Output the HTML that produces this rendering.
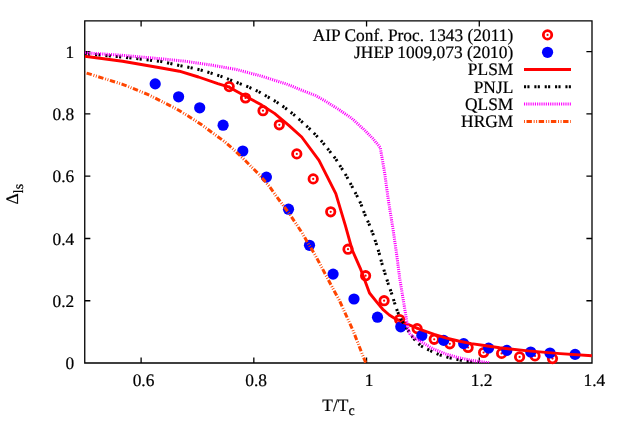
<!DOCTYPE html>
<html><head><meta charset="utf-8"><title>plot</title>
<style>
html,body{margin:0;padding:0;background:#fff;}
svg{display:block;will-change:transform;}
text{font-family:"Liberation Serif",serif;font-size:17.4px;fill:#000;stroke:#000;stroke-width:0.2px;text-rendering:geometricPrecision;}
.sub{font-size:13.92px;}
</style></head><body>
<svg width="623" height="436" viewBox="0 0 623 436">
<rect x="0" y="0" width="623" height="436" fill="#fff"/>

<defs><clipPath id="c"><rect x="84.75" y="20.8" width="507.25" height="342.2"/></clipPath></defs>
<path d="M84.75,20.8H592.0V363.0H84.75ZM141.11,363.0v-5.6M141.11,20.8v5.6M253.83,363.0v-5.6M253.83,20.8v5.6M366.56,363.0v-5.6M366.56,20.8v5.6M479.28,363.0v-5.6M479.28,20.8v5.6M84.75,300.74h5.6M592.0,300.74h-5.6M84.75,238.48h5.6M592.0,238.48h-5.6M84.75,176.22h5.6M592.0,176.22h-5.6M84.75,113.96h5.6M592.0,113.96h-5.6M84.75,51.70h5.6M592.0,51.70h-5.6" fill="none" stroke="#000" stroke-width="1.3"/>
<text transform="translate(143.5,386.2) scale(1,1.012)" text-anchor="middle">0.6</text>
<text transform="translate(256.2,386.2) scale(1,1.012)" text-anchor="middle">0.8</text>
<text transform="translate(369.0,386.2) scale(1,1.012)" text-anchor="middle">1</text>
<text transform="translate(481.7,386.2) scale(1,1.012)" text-anchor="middle">1.2</text>
<text transform="translate(594.4,386.2) scale(1,1.012)" text-anchor="middle">1.4</text>
<text transform="translate(74.3,369.0) scale(1,1.012)" text-anchor="end">0</text>
<text transform="translate(74.3,306.7) scale(1,1.012)" text-anchor="end">0.2</text>
<text transform="translate(74.3,244.5) scale(1,1.012)" text-anchor="end">0.4</text>
<text transform="translate(74.3,182.2) scale(1,1.012)" text-anchor="end">0.6</text>
<text transform="translate(74.3,120.0) scale(1,1.012)" text-anchor="end">0.8</text>
<text transform="translate(74.3,57.7) scale(1,1.012)" text-anchor="end">1</text>
<text transform="translate(322.3,410.8) scale(1,1.012)" text-anchor="start">T/T<tspan class="sub" dy="4.6">c</tspan></text>
<text transform="translate(18.1,204.4) rotate(-90) scale(1,1.012)" text-anchor="start">Δ<tspan class="sub" dy="4.9">ls</tspan></text>
<circle cx="229.2" cy="86.6" r="4.2" fill="none" stroke="#f00" stroke-width="2.8"/><circle cx="229.2" cy="86.6" r="1.1" fill="#f00"/>
<circle cx="245.5" cy="98" r="4.2" fill="none" stroke="#f00" stroke-width="2.8"/><circle cx="245.5" cy="98" r="1.1" fill="#f00"/>
<circle cx="263" cy="110.7" r="4.2" fill="none" stroke="#f00" stroke-width="2.8"/><circle cx="263" cy="110.7" r="1.1" fill="#f00"/>
<circle cx="279.3" cy="124.8" r="4.2" fill="none" stroke="#f00" stroke-width="2.8"/><circle cx="279.3" cy="124.8" r="1.1" fill="#f00"/>
<circle cx="296.8" cy="153.9" r="4.2" fill="none" stroke="#f00" stroke-width="2.8"/><circle cx="296.8" cy="153.9" r="1.1" fill="#f00"/>
<circle cx="313.2" cy="178.9" r="4.2" fill="none" stroke="#f00" stroke-width="2.8"/><circle cx="313.2" cy="178.9" r="1.1" fill="#f00"/>
<circle cx="330.7" cy="211.8" r="4.2" fill="none" stroke="#f00" stroke-width="2.8"/><circle cx="330.7" cy="211.8" r="1.1" fill="#f00"/>
<circle cx="348" cy="249.2" r="4.2" fill="none" stroke="#f00" stroke-width="2.8"/><circle cx="348" cy="249.2" r="1.1" fill="#f00"/>
<circle cx="365.6" cy="275.7" r="4.2" fill="none" stroke="#f00" stroke-width="2.8"/><circle cx="365.6" cy="275.7" r="1.1" fill="#f00"/>
<circle cx="384.1" cy="300.7" r="4.2" fill="none" stroke="#f00" stroke-width="2.8"/><circle cx="384.1" cy="300.7" r="1.1" fill="#f00"/>
<circle cx="399.6" cy="319.5" r="4.2" fill="none" stroke="#f00" stroke-width="2.8"/><circle cx="399.6" cy="319.5" r="1.1" fill="#f00"/>
<circle cx="417.1" cy="328.6" r="4.2" fill="none" stroke="#f00" stroke-width="2.8"/><circle cx="417.1" cy="328.6" r="1.1" fill="#f00"/>
<circle cx="434.2" cy="339.3" r="4.2" fill="none" stroke="#f00" stroke-width="2.8"/><circle cx="434.2" cy="339.3" r="1.1" fill="#f00"/>
<circle cx="449.8" cy="343.8" r="4.2" fill="none" stroke="#f00" stroke-width="2.8"/><circle cx="449.8" cy="343.8" r="1.1" fill="#f00"/>
<circle cx="468.1" cy="347.5" r="4.2" fill="none" stroke="#f00" stroke-width="2.8"/><circle cx="468.1" cy="347.5" r="1.1" fill="#f00"/>
<circle cx="483.6" cy="352.5" r="4.2" fill="none" stroke="#f00" stroke-width="2.8"/><circle cx="483.6" cy="352.5" r="1.1" fill="#f00"/>
<circle cx="501.6" cy="353.4" r="4.2" fill="none" stroke="#f00" stroke-width="2.8"/><circle cx="501.6" cy="353.4" r="1.1" fill="#f00"/>
<circle cx="519.6" cy="356.9" r="4.2" fill="none" stroke="#f00" stroke-width="2.8"/><circle cx="519.6" cy="356.9" r="1.1" fill="#f00"/>
<circle cx="535" cy="355.9" r="4.2" fill="none" stroke="#f00" stroke-width="2.8"/><circle cx="535" cy="355.9" r="1.1" fill="#f00"/>
<circle cx="552.5" cy="358.6" r="4.2" fill="none" stroke="#f00" stroke-width="2.8"/><circle cx="552.5" cy="358.6" r="1.1" fill="#f00"/>
<circle cx="155.2" cy="83.9" r="5.6" fill="#00f"/>
<circle cx="178.6" cy="96.8" r="5.6" fill="#00f"/>
<circle cx="199.7" cy="107.8" r="5.6" fill="#00f"/>
<circle cx="223.1" cy="125.2" r="5.6" fill="#00f"/>
<circle cx="242.8" cy="151" r="5.6" fill="#00f"/>
<circle cx="266.4" cy="177.1" r="5.6" fill="#00f"/>
<circle cx="288.5" cy="209.2" r="5.6" fill="#00f"/>
<circle cx="309.5" cy="245.3" r="5.6" fill="#00f"/>
<circle cx="333.1" cy="274.1" r="5.6" fill="#00f"/>
<circle cx="354" cy="299" r="5.6" fill="#00f"/>
<circle cx="377.5" cy="317.2" r="5.6" fill="#00f"/>
<circle cx="400.8" cy="326.8" r="5.6" fill="#00f"/>
<circle cx="421.8" cy="335.5" r="5.6" fill="#00f"/>
<circle cx="443.7" cy="340.4" r="5.6" fill="#00f"/>
<circle cx="463.7" cy="343.6" r="5.6" fill="#00f"/>
<circle cx="488.6" cy="348.1" r="5.6" fill="#00f"/>
<circle cx="506.8" cy="350.4" r="5.6" fill="#00f"/>
<circle cx="530.7" cy="352" r="5.6" fill="#00f"/>
<circle cx="550" cy="353" r="5.6" fill="#00f"/>
<circle cx="575.1" cy="354.4" r="5.6" fill="#00f"/>
<g clip-path="url(#c)">
<polyline points="84.8,56.3 122.5,61.2 160.0,67.8 179.3,71.2 198.5,77.0 217.8,83.6 229.3,87.2 236.0,91.0 248.8,98.0 261.7,105.1 274.5,113.4 288.8,125.4 301.7,137.0 319.0,160.3 335.8,193.6 345.4,225.7 352.2,250.0 360.2,268.1 369.5,293.0 376.4,301.6 382.8,309.3 389.3,315.0 395.7,318.9 408.5,324.7 421.3,329.8 434.2,334.3 445.7,337.8 458.5,341.0 471.3,343.6 484.2,345.5 499.6,347.8 528.1,350.9 560.2,353.6 591.9,355.8" fill="none" stroke="#f00" stroke-width="2.9" stroke-linejoin="round"/>
<polyline points="84.8,53.6 87.9,53.9 122.0,57.0 161.0,61.4 170.3,63.5 180.5,65.7 190.2,67.6 200.4,69.9 210.0,72.8 220.3,76.1 230.0,79.8 239.2,83.5 248.8,87.1 258.5,91.6 267.5,96.7 276.4,101.9 284.8,107.6 293.1,114.1 301.0,120.9 308.7,128.0 315.8,135.0 322.9,142.7 329.3,150.8 335.7,158.8 341.5,168.0 346.6,176.3 351.7,185.9 356.5,194.9 360.8,203.6 364.7,214.1 369.2,224.4 373.0,234.0 376.2,243.6 379.0,252.6 381.7,262.8 384.9,273.1 388.1,283.4 391.3,292.5 394.6,303.0 397.6,311.8 400.8,318.9 404.7,325.3 408.5,331.1 414.3,339.4 421.0,346.0 430.3,350.7 440.5,355.2 450.8,358.1 461.1,360.3 471.3,362.0 479.0,362.9" fill="none" stroke="#000" stroke-width="3" stroke-dasharray="2.1 1.3 2.1 4.85"/>
<polyline points="84.8,52.8 122.0,55.3 160.0,58.7 185.7,61.3 211.3,65.1 236.0,69.4 261.7,76.2 287.3,84.3 302.6,90.6 315.6,95.6 325.7,101.3 338.0,109.0 351.3,118.0 364.2,129.7 373.0,138.8 380.2,147.4 384.5,171.8 388.4,200.6 392.9,228.2 396.8,255.5 399.7,278.2 404.2,305.5 407.9,328.5 409.8,333.6 414.9,338.1 421.3,341.9 426.4,344.9 432.8,348.7 445.7,353.9 458.5,357.7 471.3,360.3 489.3,362.9" fill="none" stroke="#f0f" stroke-width="3" stroke-dasharray="1.1 1.08"/>
<polyline points="84.8,72.5 122.5,84.3 148.2,94.6 162.8,102.0 175.7,108.5 188.5,116.2 201.3,124.5 214.2,134.1 224.5,141.5 232.8,148.8 245.7,161.0 258.5,173.9 269.1,186.0 276.8,196.9 289.7,214.2 302.5,233.5 307.0,241.5 315.3,255.3 325.5,274.5 334.5,291.5 339.2,300.0 353.2,330.9 362.4,354.6 366.0,363.3" fill="none" stroke="#ff4500" stroke-width="3" stroke-dasharray="5.4 1.8 0.9 1.6 0.9 1.6" stroke-dashoffset="10.3"/>
</g>
<text transform="translate(513.3,40.7) scale(1,1.012)" text-anchor="end">AIP Conf. Proc. 1343 (2011)</text>
<text transform="translate(513.3,58.0) scale(1,1.012)" text-anchor="end">JHEP 1009,073 (2010)</text>
<text transform="translate(513.3,75.3) scale(1,1.012)" text-anchor="end">PLSM</text>
<text transform="translate(513.3,92.6) scale(1,1.012)" text-anchor="end">PNJL</text>
<text transform="translate(513.3,109.9) scale(1,1.012)" text-anchor="end">QLSM</text>
<text transform="translate(513.3,127.2) scale(1,1.012)" text-anchor="end">HRGM</text>
<circle cx="547.55" cy="34.9" r="4.2" fill="none" stroke="#f00" stroke-width="2.8"/><circle cx="547.55" cy="34.9" r="1.1" fill="#f00"/>
<circle cx="547.55" cy="52.300000000000004" r="5.6" fill="#00f"/>
<path d="M524,69.5H571" stroke="#f00" stroke-width="3"/>
<path d="M524,86.8H571" stroke="#000" stroke-width="3" stroke-dasharray="2.1 1.3 2.1 4.85"/>
<path d="M524,104.1H571" stroke="#f0f" stroke-width="3" stroke-dasharray="1.1 1.08"/>
<path d="M524,121.4H571" stroke="#ff4500" stroke-width="3" stroke-dasharray="5.4 1.8 0.9 1.6 0.9 1.6" stroke-dashoffset="9.7"/>
</svg></body></html>
